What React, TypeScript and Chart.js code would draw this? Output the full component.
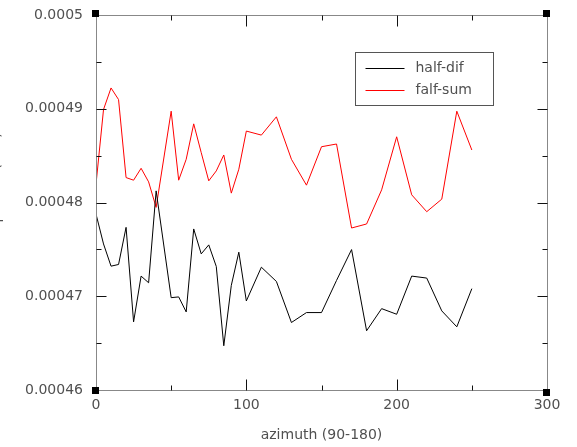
import React, { useEffect, useRef } from "react";
import { Chart, registerables } from "chart.js";

Chart.register(...registerables);

// ---- data ----
const azimuth = [0, 5, 10, 15, 20, 25, 30, 35, 40, 50, 55, 60, 65, 70, 75, 80, 85, 90, 95, 100,
  110, 120, 130, 140, 150, 160, 170, 180, 190, 200, 210, 220, 230, 240, 250];

const halfDif = [0.00047877, 0.00047558, 0.00047321, 0.00047339, 0.00047735, 0.00046727, 0.00047215,
  0.00047144, 0.00048124, 0.00046985, 0.00046993, 0.00046833, 0.00047718, 0.00047452, 0.00047548,
  0.00047318, 0.00046472, 0.00047116, 0.0004747, 0.0004695, 0.0004731, 0.00047158, 0.0004672,
  0.00046826, 0.00046826, 0.00047169, 0.00047498, 0.00046632, 0.00046868, 0.00046808, 0.00047215,
  0.00047194, 0.00046844, 0.00046674, 0.00047081];

const falfSum = [0.00048195, 0.00048992, 0.00049222, 0.00049098, 0.00048266, 0.00048238, 0.00048365,
  0.0004822, 0.00047948, 0.00048974, 0.00048238, 0.00048461, 0.00048839, 0.00048532, 0.00048231,
  0.00048337, 0.00048507, 0.000481, 0.00048355, 0.00048762, 0.00048719, 0.00048914, 0.00048461,
  0.00048185, 0.00048595, 0.00048624, 0.00047728, 0.00047771, 0.00048135, 0.00048701, 0.00048082,
  0.00047902, 0.00048036, 0.00048974, 0.0004856];

const seriesLabels = ["half-dif", "falf-sum"];
const seriesColors = ["#000000", "#ff0000"];

const xTicks = [0, 100, 200, 300];
const xTickLabels = ["0", "100", "200", "300"];
const xMinorTicks = [50, 150, 250];
const yTicks = [0.00046, 0.00047, 0.00048, 0.00049, 0.0005];
const yTickLabels = ["0.00046", "0.00047", "0.00048", "0.00049", "0.0005"];
const yMinorTicks = [0.000465, 0.000475, 0.000485, 0.000495];

const xTitle = "azimuth (90-180)";
const yTitle = "amplitude (a.u.)";

const FONT_FAMILY = "'DejaVu Sans', sans-serif";
const TEXT_COLOR = "#505050";

const framePlugin = {
  id: "idlFrame",
  afterDatasetsDraw(chart: any) {
    const { ctx, chartArea: a, scales } = chart;
    const xs = scales.x;
    const ys = scales.y;
    const L = Math.round(a.left) + 0.5;
    const R = Math.round(a.right) + 0.5;
    const T = Math.round(a.top) + 0.5;
    const B = Math.round(a.bottom) + 0.5;
    ctx.save();
    // box
    ctx.strokeStyle = "#888888";
    ctx.lineWidth = 1;
    ctx.strokeRect(L, T, R - L, B - T);
    // ticks
    ctx.strokeStyle = "#111111";
    ctx.beginPath();
    const xt = (vals: number[], len: number) => {
      vals.forEach((v) => {
        const px = Math.round(xs.getPixelForValue(v)) + 0.5;
        ctx.moveTo(px, B);
        ctx.lineTo(px, B - len);
        ctx.moveTo(px, T);
        ctx.lineTo(px, T + len);
      });
    };
    const yt = (vals: number[], len: number) => {
      vals.forEach((v) => {
        const py = Math.round(ys.getPixelForValue(v)) + 0.5;
        ctx.moveTo(L, py);
        ctx.lineTo(L + len, py);
        ctx.moveTo(R, py);
        ctx.lineTo(R - len, py);
      });
    };
    xt(xTicks.slice(1, -1), 11);
    xt(xMinorTicks, 5);
    yt(yTicks.slice(1, -1), 10);
    yt(yMinorTicks, 5);
    ctx.stroke();
    // corner squares
    ctx.fillStyle = "#000000";
    const sq = 7;
    ctx.fillRect(L - 4.5, T - 5.5, sq, sq);
    ctx.fillRect(R - 4.5, T - 5.5, sq, sq);
    ctx.fillRect(L - 4.5, B - 3.5, sq, sq);
    ctx.fillRect(R - 4.5, B - 1.5, sq, sq);

    // legend box
    const bx = Math.round(a.left + 259) + 0.5;
    const by = Math.round(a.top + 37) + 0.5;
    const bw = 138;
    const bh = 53;
    ctx.strokeStyle = "#555555";
    ctx.strokeRect(bx, by, bw, bh);
    ctx.font = "14px " + FONT_FAMILY;
    ctx.textBaseline = "middle";
    ctx.textAlign = "left";
    seriesLabels.forEach((lab, i) => {
      const ly = Math.round(by + 15 + i * 22) + 0.5;
      ctx.strokeStyle = seriesColors[i];
      ctx.beginPath();
      ctx.moveTo(bx + 10, ly);
      ctx.lineTo(bx + 49, ly);
      ctx.stroke();
      ctx.fillStyle = TEXT_COLOR;
      ctx.fillText(lab, bx + 60, ly);
    });

    // y title (clipped at the page's left edge)
    ctx.save();
    ctx.translate(-0.5, (a.top + a.bottom) / 2 - 14);
    ctx.rotate(-Math.PI / 2);
    ctx.textAlign = "center";
    ctx.textBaseline = "alphabetic";
    ctx.fillStyle = TEXT_COLOR;
    ctx.fillText(yTitle, 0, 0);
    ctx.restore();
    ctx.restore();
  },
};

export default function App() {
  const canvasRef = useRef<HTMLCanvasElement | null>(null);

  useEffect(() => {
    if (!canvasRef.current) return;
    const font = { family: FONT_FAMILY, size: 14 };
    const chart = new Chart(canvasRef.current, {
      type: "line",
      data: {
        datasets: [
          {
            label: seriesLabels[0],
            data: azimuth.map((x, i) => ({ x, y: halfDif[i] })),
            borderColor: seriesColors[0],
            borderWidth: 1,
            pointRadius: 0,
            tension: 0,
            fill: false,
          },
          {
            label: seriesLabels[1],
            data: azimuth.map((x, i) => ({ x, y: falfSum[i] })),
            borderColor: seriesColors[1],
            borderWidth: 1,
            pointRadius: 0,
            tension: 0,
            fill: false,
          },
        ],
      },
      options: {
        animation: false,
        responsive: true,
        maintainAspectRatio: false,
        layout: { padding: { left: 0, right: 30, top: 15, bottom: 0 } },
        plugins: {
          legend: { display: false },
          tooltip: { enabled: false },
        },
        scales: {
          x: {
            type: "linear",
            min: 0,
            max: 300,
            afterBuildTicks: (s: any) => {
              s.ticks = xTicks.map((v) => ({ value: v }));
            },
            afterFit: (s: any) => {
              s.height = 57;
              s.paddingLeft = 0;
              s.paddingRight = 0;
            },
            grid: { display: false, drawTicks: false },
            border: { display: false },
            ticks: {
              padding: 7,
              color: TEXT_COLOR,
              font,
              maxRotation: 0,
              autoSkip: false,
              callback: (_v: any, i: number) => xTickLabels[i],
            },
            title: {
              display: true,
              text: xTitle,
              color: TEXT_COLOR,
              font,
              padding: { top: 0, bottom: 3 },
            },
          },
          y: {
            type: "linear",
            min: 0.00046,
            max: 0.0005,
            afterBuildTicks: (s: any) => {
              s.ticks = yTicks.map((v) => ({ value: v }));
            },
            afterFit: (s: any) => {
              s.width = 96;
              s.paddingTop = 0;
              s.paddingBottom = 0;
            },
            grid: { display: false, drawTicks: false },
            border: { display: false },
            ticks: {
              padding: 13,
              color: TEXT_COLOR,
              font,
              autoSkip: false,
              callback: (_v: any, i: number) => yTickLabels[i],
            },
          },
        },
      },
      plugins: [framePlugin],
    } as any);
    return () => chart.destroy();
  }, []);

  return (
    <div style={{ position: "absolute", left: 0, top: 0, width: 577, height: 447, background: "#fff" }}>
      <canvas ref={canvasRef} />
    </div>
  );
}
